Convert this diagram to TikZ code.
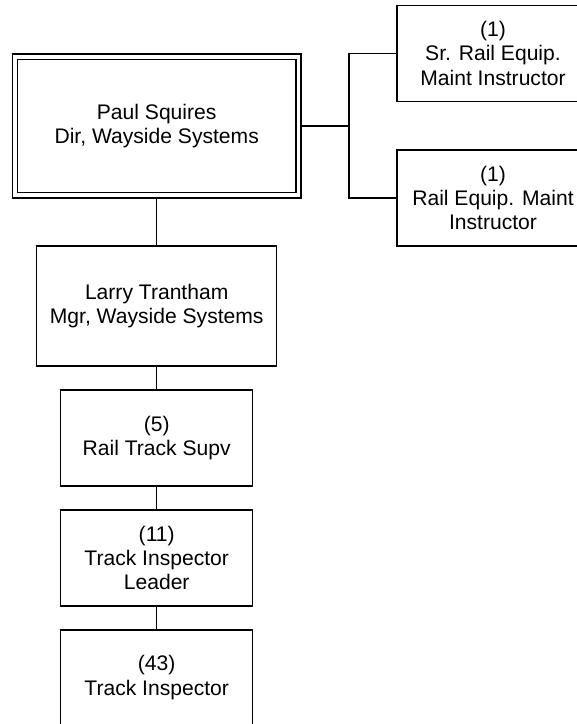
\documentclass[tikz,border=0pt]{standalone}
\usepackage{fontspec}
\setmainfont{Liberation Sans}
\usepackage{tikz}
\usetikzlibrary{positioning}

\begin{document}
\begin{tikzpicture}[
  bx/.style={draw,line width=0.85pt,align=center,minimum width=3.84cm,minimum height=1.92cm,
    font=\fontsize{12}{13.7}\selectfont},
  dbx/.style={bx,double,double distance=2.15pt,outer sep=1.93pt}]
 \useasboundingbox (0,0) rectangle (11.54,-14.48);
 % director and staff
 \node[dbx,minimum width=5.67cm,minimum height=2.77cm] (dir) at (3.134,-2.52) {Paul Squires\\Dir, Wayside Systems};
 \node[bx] (sr) at (9.86,-1.068) {(1)\\Sr. Rail Equip.\\Maint Instructor};
 \node[bx] (re) at (9.86,-3.96) {(1)\\Rail Equip. Maint\\Instructor};
 \coordinate (jn) at (6.98,-2.52);
 % line of command
 \node[bx,minimum width=4.8cm,minimum height=2.4cm] (mgr) at (3.134,-6.12) {Larry Trantham\\Mgr, Wayside Systems};
 \node[bx] (supv) at (3.134,-8.76) {(5)\\Rail Track Supv};
 \node[bx] (lead) at (3.134,-11.156) {(11)\\Track Inspector\\Leader};
 \node[bx,minimum height=1.9cm] (insp) at (3.134,-13.55) {(43)\\Track Inspector};
 % connectors
 \draw[line width=0.85pt] (dir.east) -- (jn);
 \draw[line width=0.85pt] (sr.west) -| (jn) |- (re.west);
 \draw[line width=0.85pt] (dir.south) -- (mgr.north);
 \draw[line width=0.85pt] (mgr.south) -- (supv.north);
 \draw[line width=0.85pt] (supv.south) -- (lead.north);
 \draw[line width=0.85pt] (lead.south) -- (insp.north);
\end{tikzpicture}
\end{document}
